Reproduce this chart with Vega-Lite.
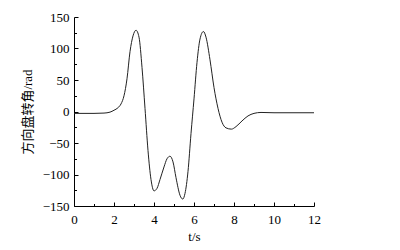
{
  "$schema": "https://vega.github.io/schema/vega-lite/v6.json",
  "width": 240,
  "height": 189,
  "autosize": "none",
  "padding": {"left": 74, "top": 17, "right": 86, "bottom": 44},
  "background": "white",
  "config": {
    "view": {"stroke": null},
    "axis": {
      "grid": false,
      "domainColor": "#000",
      "tickColor": "#000",
      "labelColor": "#000",
      "titleColor": "#000",
      "labelFont": "Liberation Serif",
      "titleFont": "Liberation Serif, Noto Sans CJK SC",
      "labelFontSize": 13,
      "titleFontSize": 13,
      "titleFontWeight": "normal",
      "domainWidth": 1,
      "tickWidth": 1
    }
  },
  "data": {"values": [
    {"t": 0, "v": -3}, {"t": 0.5, "v": -3}, {"t": 1.0, "v": -3}, {"t": 1.5, "v": -2.5},
    {"t": 1.8, "v": -1}, {"t": 2.0, "v": 2}, {"t": 2.2, "v": 6}, {"t": 2.35, "v": 12},
    {"t": 2.5, "v": 25}, {"t": 2.65, "v": 52}, {"t": 2.8, "v": 95}, {"t": 2.95, "v": 120},
    {"t": 3.1, "v": 129}, {"t": 3.25, "v": 118}, {"t": 3.4, "v": 70}, {"t": 3.55, "v": 5},
    {"t": 3.7, "v": -62}, {"t": 3.85, "v": -108}, {"t": 4.0, "v": -126}, {"t": 4.15, "v": -122},
    {"t": 4.3, "v": -108}, {"t": 4.5, "v": -88}, {"t": 4.65, "v": -75}, {"t": 4.8, "v": -71},
    {"t": 4.95, "v": -80}, {"t": 5.1, "v": -105}, {"t": 5.3, "v": -133}, {"t": 5.44, "v": -139},
    {"t": 5.55, "v": -130}, {"t": 5.7, "v": -95}, {"t": 5.85, "v": -35}, {"t": 6.0, "v": 20},
    {"t": 6.15, "v": 78}, {"t": 6.3, "v": 115}, {"t": 6.47, "v": 127}, {"t": 6.6, "v": 118},
    {"t": 6.8, "v": 82}, {"t": 7.0, "v": 38}, {"t": 7.2, "v": 5}, {"t": 7.4, "v": -17},
    {"t": 7.6, "v": -26}, {"t": 7.87, "v": -28}, {"t": 8.1, "v": -24}, {"t": 8.4, "v": -15},
    {"t": 8.7, "v": -7}, {"t": 9.0, "v": -3}, {"t": 9.35, "v": -1.5}, {"t": 10, "v": -2},
    {"t": 11, "v": -2}, {"t": 12, "v": -2}
  ]},
  "layer": [
    {
      "mark": {"type": "line", "color": "#222", "strokeWidth": 1, "interpolate": "monotone"},
      "encoding": {
        "x": {"field": "t", "type": "quantitative",
              "scale": {"domain": [0, 12], "nice": false, "zero": false},
              "axis": {"orient": "bottom", "title": "t/s", "values": [0, 2, 4, 6, 8, 10, 12],
                       "tickSize": -4, "labelPadding": 11, "titlePadding": 4, "labelFlush": false}},
        "y": {"field": "v", "type": "quantitative",
              "scale": {"domain": [-150, 150], "nice": false, "zero": false},
              "axis": {"orient": "left", "title": "方向盘转角/rad",
                       "values": [-150, -100, -50, 0, 50, 100, 150],
                       "tickSize": -4, "labelPadding": 9, "titlePadding": 8, "labelFlush": false}}
      }
    },
    {
      "mark": {"type": "line", "strokeOpacity": 0},
      "encoding": {
        "x": {"field": "t", "type": "quantitative",
              "scale": {"domain": [0, 12], "nice": false, "zero": false},
              "axis": {"orient": "bottom", "title": null, "values": [1, 3, 5, 7, 9, 11],
                       "labels": false, "domain": false, "tickSize": -2.5}},
        "y": {"field": "v", "type": "quantitative",
              "scale": {"domain": [-150, 150], "nice": false, "zero": false},
              "axis": {"orient": "left", "title": null, "values": [-125, -75, -25, 25, 75, 125],
                       "labels": false, "domain": false, "tickSize": -2.5}}
      }
    }
  ],
  "resolve": {"axis": {"x": "independent", "y": "independent"}}
}
